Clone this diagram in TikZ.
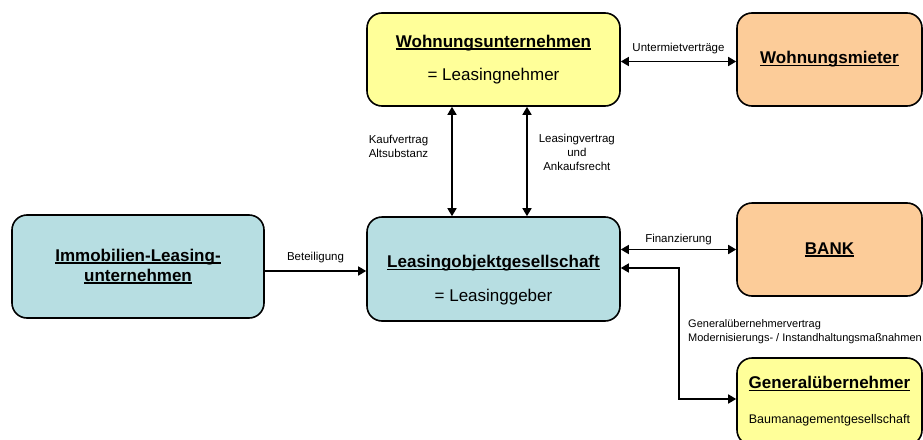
\documentclass[tikz,border=0pt]{standalone}
\usepackage{fontspec}
\setmainfont{Liberation Sans}
\usetikzlibrary{arrows.meta}
\definecolor{gelb}{RGB}{255,255,153}
\definecolor{apricot}{RGB}{252,204,153}
\definecolor{tuerkis}{RGB}{183,222,226}
\newcommand\unterstr[1]{\setbox0=\hbox{#1}\rlap{\rule[-2.5pt]{\wd0}{1.5pt}}\box0}

\begin{document}
\begin{tikzpicture}[x=1pt,y=-1pt]

    \useasboundingbox (0,0) rectangle (923,439);
    \clip (0,0) rectangle (923,439);
    \tikzset{BoxStyle/.style = {draw, line width=1.6pt, rounded corners=15pt, inner sep=0pt,
                                align=center, font=\fontsize{17}{20}\selectfont},
             EdgeStyle/.style = {line width=1.6pt, -{Triangle[length=8pt,width=9pt]}},
             BothStyle/.style = {line width=1.6pt, {Triangle[length=8pt,width=9pt]}-{Triangle[length=8pt,width=9pt]}},
             LabelStyle/.style = {font=\fontsize{11.5}{14}\selectfont, inner sep=3pt}}

    \node[BoxStyle, fill=gelb, minimum width=253, minimum height=93] (wu) at (493.5,59.5)
        {\unterstr{\textbf{Wohnungsunternehmen}}\\[13.6pt] = Leasingnehmer};
    \node[BoxStyle, fill=apricot, minimum width=185, minimum height=93] (wm) at (829.5,59.5)
        {\unterstr{\textbf{Wohnungsmieter}}};
    \node[BoxStyle, fill=tuerkis, minimum width=252, minimum height=103] (imm) at (138,266.5)
        {\unterstr{\textbf{Immobilien-Leasing-}}\\\unterstr{\textbf{unternehmen}}};
    \node[BoxStyle, fill=tuerkis, minimum width=253, minimum height=104] (lg) at (493.5,269) {};
    \node[align=center, font=\fontsize{17}{20}\selectfont] (lgtext) at (493.5,280)
        {\unterstr{\textbf{Leasingobjektgesellschaft}}\\[13.6pt] = Leasinggeber};
    \node[BoxStyle, fill=apricot, minimum width=185, minimum height=93] (bank) at (829.5,249.5)
        {\unterstr{\textbf{BANK}}};
    \node[BoxStyle, fill=gelb, minimum width=185, minimum height=87] (gu) at (829.5,401.5)
        {\unterstr{\textbf{Generalübernehmer}}\\[15pt]{\fontsize{12.5}{15}\selectfont Baumanagementgesellschaft}};

    \draw[BothStyle] ([yshift=-2pt]wu.east) -- ([yshift=-2pt]wm.west)
        node[LabelStyle, midway, above=4pt] (untermiet) {Untermietverträge};
    \draw[BothStyle] ([xshift=-41.5pt]wu.south) -- ([xshift=-41.5pt]lg.north)
        node[LabelStyle, pos=0.36, left=20pt, align=left] (kauf) {Kaufvertrag\\Altsubstanz};
    \draw[BothStyle] ([xshift=33.5pt]wu.south) -- ([xshift=33.5pt]lg.north)
        node[LabelStyle, pos=0.42, right=8pt, align=center] (leasing) {Leasingvertrag\\und\\Ankaufsrecht};
    \draw[EdgeStyle] ([yshift=-4.5pt]imm.east) -- ([yshift=-4.5pt]imm.east -| lg.west)
        node[LabelStyle, midway, above=4pt] (beteil) {Beteiligung};
    \draw[BothStyle] (lg.east |- bank.west) -- (bank.west)
        node[LabelStyle, midway, above=1pt] (finanz) {Finanzierung};
    \draw[BothStyle] ([yshift=1pt]lg.east) -- ++(58,0) |- ([yshift=2.5pt]gu.west);
    \node[LabelStyle, anchor=west, align=left, font=\fontsize{11}{14}\selectfont] (guvertrag) at (685,332)
        {Generalübernehmervertrag\\Modernisierungs- / Instandhaltungsmaßnahmen};

\end{tikzpicture}
\end{document}
